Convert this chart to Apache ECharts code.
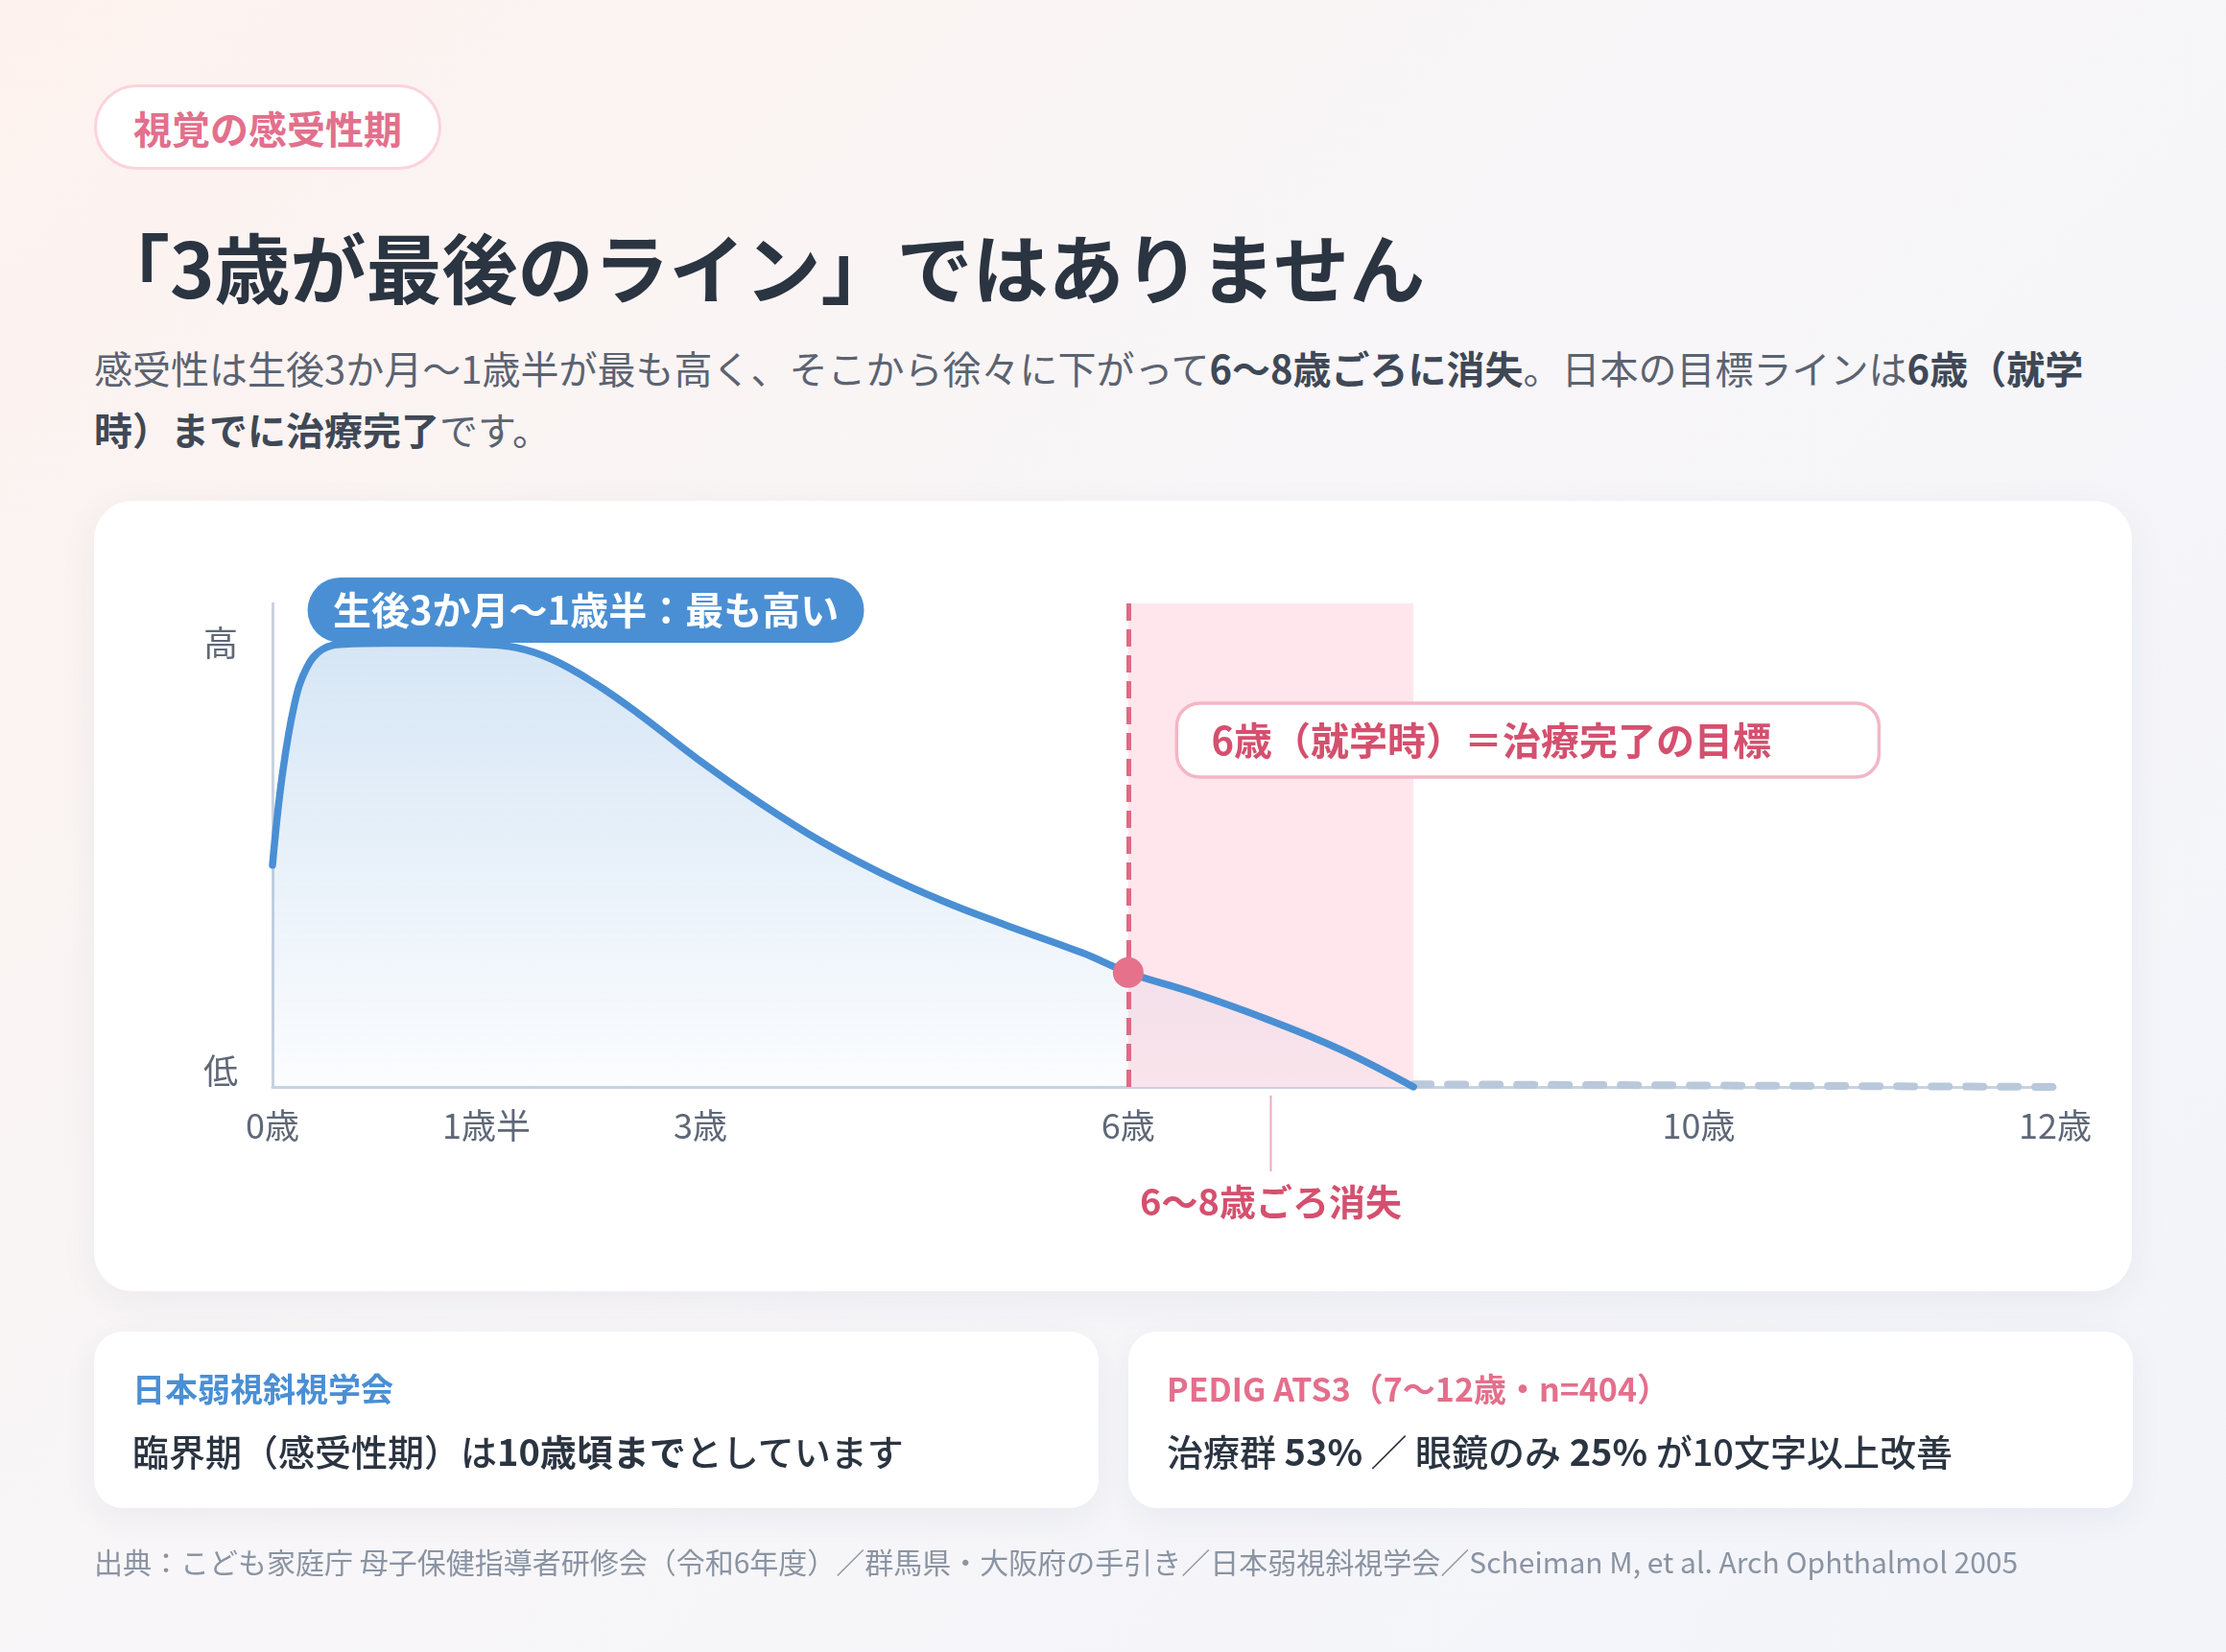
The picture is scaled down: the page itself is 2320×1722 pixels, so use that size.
<!DOCTYPE html>
<html><head><meta charset="utf-8">
<script src="https://cdn.jsdelivr.net/npm/echarts@6/dist/echarts.min.js"></script>
<style>
html,body{margin:0;padding:0;}
body{width:2320px;height:1722px;position:relative;overflow:hidden;font-family:"Noto Sans CJK JP","Noto Sans",sans-serif;background:linear-gradient(135deg,#fdf2ee 0%,#f8f6f8 45%,#f2f4fa 100%);}
.tag{position:absolute;left:98px;top:88px;width:362px;height:89px;box-sizing:border-box;border:3px solid #fcd3dc;border-radius:45px;background:#fff;color:#e36f8c;font-size:40px;font-weight:700;display:flex;align-items:center;justify-content:center;}
.title{position:absolute;left:98px;top:227px;font-size:79px;font-weight:700;line-height:100px;color:#2b3441;white-space:nowrap;}
.sub{position:absolute;left:98px;top:351px;font-size:40px;line-height:64px;color:#5b6371;white-space:nowrap;}
.sub b{color:#3f4856;font-weight:700;}
#chart{position:absolute;left:98px;top:522px;width:2124px;height:824px;background:#fff;border-radius:40px;box-shadow:0 10px 40px rgba(40,50,90,0.06);overflow:hidden;}
.card{position:absolute;top:1388px;width:1047px;height:184px;background:#fff;border-radius:30px;box-shadow:0 10px 36px rgba(40,50,90,0.06);}
.card .h{position:absolute;left:40px;top:34px;line-height:50px;font-size:34px;font-weight:700;white-space:nowrap;}
.card .t{position:absolute;left:40px;top:94px;line-height:60px;font-size:38px;font-weight:500;color:#2b3441;white-space:nowrap;}
.card .t b{font-weight:700;}
.foot{position:absolute;left:98px;top:1602px;line-height:50px;font-size:30px;color:#8a94a3;white-space:nowrap;}
</style></head>
<body>
<div class="tag">視覚の感受性期</div>
<div class="title">「3歳が最後のライン」ではありません</div>
<div class="sub">感受性は生後3か月〜1歳半が最も高く、そこから徐々に下がって<b>6〜8歳ごろに消失</b>。日本の目標ラインは<b>6歳（就学</b><br><b>時）までに治療完了</b>です。</div>
<div id="chart"></div>
<div class="card" style="left:98px"><div class="h" style="color:#4a8fd4">日本弱視斜視学会</div><div class="t">臨界期（感受性期）は<b>10歳頃まで</b>としています</div></div>
<div class="card" style="left:1176px"><div class="h" style="color:#e36f8c">PEDIG ATS3（7〜12歳・n=404）</div><div class="t">治療群 <b>53%</b> ／ 眼鏡のみ <b>25%</b> が10文字以上改善</div></div>
<div class="foot">出典：こども家庭庁 母子保健指導者研修会（令和6年度）／群馬県・大阪府の手引き／日本弱視斜視学会／Scheiman M, et al. Arch Ophthalmol 2005</div>
<script>
// ---- data ----
const ages        = [0, 0.067, 0.154, 0.24, 0.347, 0.5, 0.8, 1.15, 1.44, 1.7, 1.96, 2.26, 2.56, 2.99, 3.42, 3.85, 4.28, 4.71, 5.14, 5.68, 6.0, 6.45, 6.97, 7.49, 8.0];
const sensitivity = [50, 69.9, 86.3, 94.5, 98.6, 99.8, 100, 100, 99.8, 99.1, 96.4, 91, 84.3, 73.7, 64, 55.3, 48, 41.8, 36.5, 30.2, 25.8, 21.3, 15.3, 8.4, 0];
const tailAges    = [8, 12.5];
const tailValues  = [0.6, 0];
const markerAge   = 6;
const markerValue = 25.8;
const targetBand  = [6, 8];
const fadeAge     = 7;
const xTickValues = [0, 1.5, 3, 6, 10, 12.5];
const xTickLabels = ['0歳', '1歳半', '3歳', '6歳', '10歳', '12歳'];
const yTickValues = [3.7, 100];
const yTickLabels = ['低', '高'];
const peakLabel   = '生後3か月〜1歳半：最も高い';
const goalLabel   = '6歳（就学時）＝治療完了の目標';
const fadeLabel   = '6〜8歳ごろ消失';

const FONT = '"Noto Sans CJK JP", "Noto Sans", sans-serif';
const chart = echarts.init(document.getElementById('chart'), null, {renderer: 'canvas'});
const axisColor = '#c8d3e0';

chart.setOption({
  animation: false,
  grid: {left: 186, top: 107, width: 1858, height: 504, containLabel: false},
  xAxis: {
    type: 'value', min: 0, max: 12.5,
    axisLine: {show: true, lineStyle: {color: axisColor, width: 3}},
    axisTick: {show: false}, splitLine: {show: false},
    axisLabel: {
      customValues: xTickValues, margin: 22, color: '#5f6877', fontSize: 36, fontFamily: FONT,
      formatter: v => { const i = xTickValues.indexOf(v); return i >= 0 ? xTickLabels[i] : ''; }
    }
  },
  yAxis: {
    type: 'value', min: 0, max: 109,
    axisLine: {show: true, lineStyle: {color: axisColor, width: 3}},
    axisTick: {show: false}, splitLine: {show: false},
    axisLabel: {
      customValues: yTickValues, margin: 36, color: '#5f6877', fontSize: 36, fontFamily: FONT,
      formatter: v => { const i = yTickValues.indexOf(v); return i >= 0 ? yTickLabels[i] : ''; }
    }
  },
  series: [
    {
      name: 'tail', type: 'line', z: 1, silent: true, showSymbol: false,
      data: tailAges.map((a, i) => [a, tailValues[i]]),
      lineStyle: {color: '#b9c8db', width: 8, type: [18, 18], cap: 'round'},
      markArea: {
        silent: true,
        itemStyle: {color: '#ffe6ec'},
        data: [[{xAxis: targetBand[0]}, {xAxis: targetBand[1]}]]
      }
    },
    {
      name: 'sensitivity', type: 'line', z: 2, silent: true, showSymbol: false,
      smooth: 0.4,
      data: ages.map((a, i) => [a, sensitivity[i]]),
      lineStyle: {color: '#4a8fd4', width: 7.5, cap: 'round', join: 'round'},
      areaStyle: {
        color: new echarts.graphic.LinearGradient(0, 0, 0, 1, [
          {offset: 0, color: 'rgba(74,143,212,0.32)'},
          {offset: 1, color: 'rgba(74,143,212,0.03)'}
        ])
      }
    },
    {
      name: 'goalLine', type: 'line', z: 3, silent: true, data: [],
      markLine: {
        silent: true, symbol: 'none',
        label: {show: false},
        lineStyle: {color: '#e06a86', width: 5, type: [18, 9]},
        data: [{xAxis: markerAge}]
      }
    },
    {
      name: 'marker', type: 'scatter', z: 5, silent: true,
      symbolSize: 32,
      itemStyle: {color: '#e5728a', opacity: 1},
      data: [[markerAge, markerValue]]
    }
  ]
});

// annotations positioned through the chart's scales
const px = (x, y) => chart.convertToPixel({gridIndex: 0}, [x, y]);
const pill = px(2.197, 107.5);
const goal = px(6.34, 86.5);
const fade = px(fadeAge, 0);
chart.setOption({
  graphic: [
    {type: 'rect', z: 100, shape: {x: pill[0] - 290, y: pill[1] - 34, width: 580, height: 68, r: 34}, style: {fill: '#4a8fd4'}},
    {type: 'text', z: 101, x: pill[0], y: pill[1], style: {text: peakLabel, fill: '#ffffff', font: 'bold 40px ' + FONT, textAlign: 'center', textVerticalAlign: 'middle', align: 'center', verticalAlign: 'middle'}},
    {type: 'rect', z: 100, shape: {x: goal[0], y: goal[1], width: 732, height: 77, r: 24}, style: {fill: '#ffffff', stroke: '#f3b6c5', lineWidth: 3.5}},
    {type: 'text', z: 101, x: goal[0] + 36, y: goal[1] + 39, style: {text: goalLabel, fill: '#d4506e', font: 'bold 40px ' + FONT, textAlign: 'left', textVerticalAlign: 'middle', align: 'left', verticalAlign: 'middle'}},
    {type: 'line', z: 100, shape: {x1: fade[0], y1: fade[1] + 9, x2: fade[0], y2: fade[1] + 88}, style: {stroke: '#eeaabb', lineWidth: 2}},
    {type: 'text', z: 101, x: fade[0], y: fade[1] + 120, style: {text: fadeLabel, fill: '#d4506e', font: 'bold 38px ' + FONT, textAlign: 'center', textVerticalAlign: 'middle', align: 'center', verticalAlign: 'middle'}}
  ]
});
</script>
</body></html>
